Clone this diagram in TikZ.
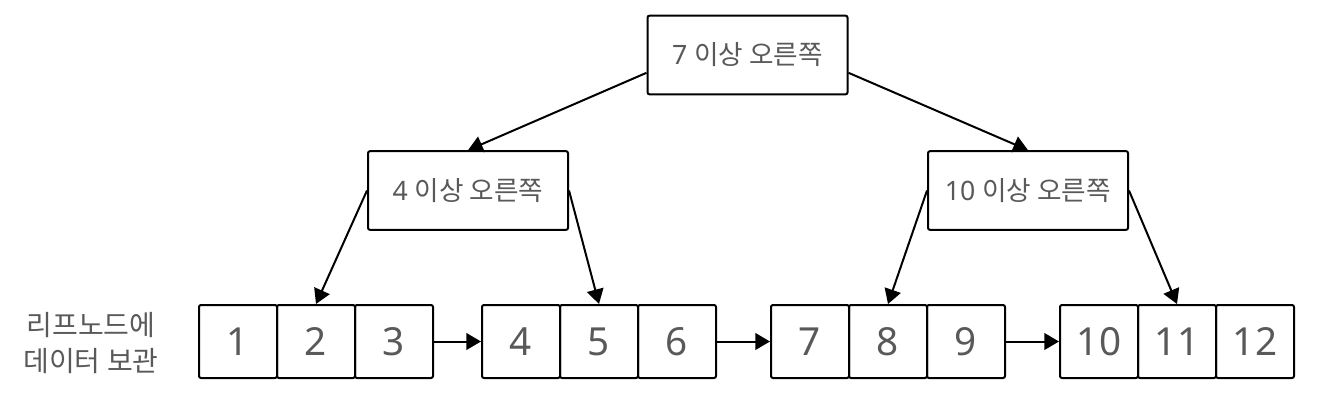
\documentclass[tikz,border=0pt]{standalone}
\usepackage{fontspec}
\usepackage{xcolor}
\usepackage{tikz}
\usetikzlibrary{arrows.meta, positioning}
\newfontfamily\krfont{Noto Sans CJK KR}
\newfontfamily\numfont{Noto Sans}
\definecolor{labelgray}{HTML}{595959}
\tikzstyle{arrow} = [line width=1.5pt,-{Triangle[length=11pt,width=12.5pt]}]
\tikzstyle{cell} = [rectangle, draw=black, line width=1.5pt, rounded corners=1.5pt, minimum width=58.5pt, minimum height=54.75pt, inner sep=0pt, text=labelgray, font=\numfont\fontsize{29}{29}\selectfont]
\tikzstyle{index} = [rectangle, draw=black, line width=1.5pt, rounded corners=1.5pt, minimum width=150pt, minimum height=59pt, inner sep=0pt, text=labelgray, font=\krfont\fontsize{20}{20}\selectfont]

\begin{document}
\begin{tikzpicture}[x=0.75pt, y=-0.75pt]
    \useasboundingbox (0,0) rectangle (1340,414);
    % Index nodes
    \node[index] (root) at (747.5, 55) {{\numfont 7 }이상 오른쪽};
    \node[index] (idx4) at (468, 190.5) {{\numfont 4 }이상 오른쪽};
    \node[index] (idx10) at (1028, 190.5) {{\numfont 10 }이상 오른쪽};

    % Leaf label
    \node[align=center, text=labelgray, font=\krfont\fontsize{21}{27}\selectfont] (leaflabel) at (91, 343) {리프노드에\\데이터 보관};

    % Leaf cells
    \node[cell] (c1) at (238, 341.5) {1};
    \node[cell] (c2) at (316, 341.5) {2};
    \node[cell] (c3) at (394, 341.5) {3};
    \node[cell] (c4) at (521, 341.5) {4};
    \node[cell] (c5) at (599, 341.5) {5};
    \node[cell] (c6) at (677, 341.5) {6};
    \node[cell] (c7) at (810, 341.5) {7};
    \node[cell] (c8) at (888, 341.5) {8};
    \node[cell] (c9) at (966, 341.5) {9};
    \node[cell] (c10) at (1099, 341.5) {10};
    \node[cell] (c11) at (1177, 341.5) {11};
    \node[cell] (c12) at (1255, 341.5) {12};

    % Arrows
    \draw[arrow] (root.190) -- (idx4.north);
    \draw[arrow] (root.350) -- (idx10.north);
    \draw[arrow] (idx4.west) -- (c2.north);
    \draw[arrow] (idx4.east) -- (c5.north);
    \draw[arrow] (idx10.west) -- (c8.north);
    \draw[arrow] (idx10.east) -- (c11.north);
    \draw[arrow] (c3) -- (c4);
    \draw[arrow] (c6) -- (c7);
    \draw[arrow] (c9) -- (c10);
\end{tikzpicture}
\end{document}
